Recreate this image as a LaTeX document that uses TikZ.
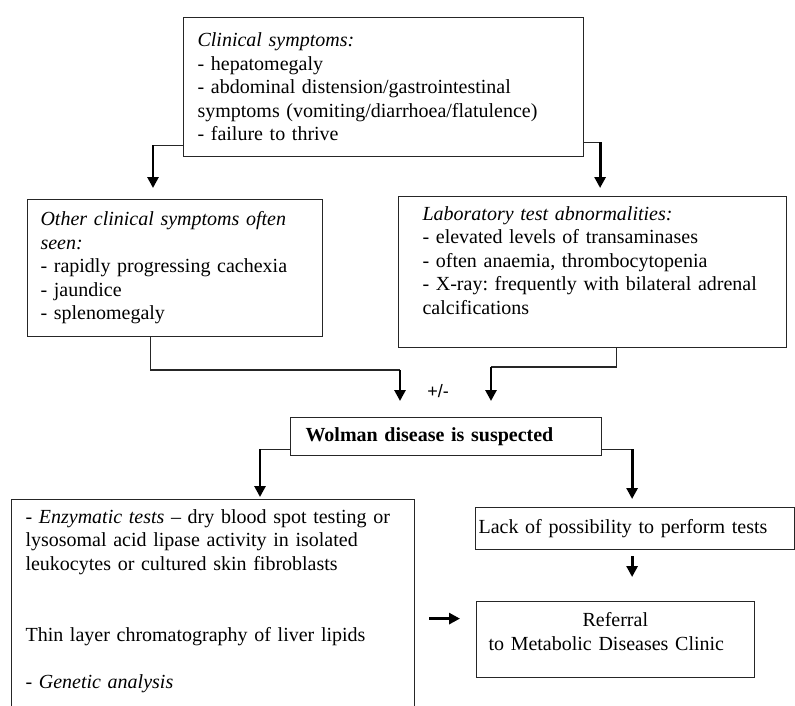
\documentclass[tikz,border=0pt]{standalone}
\usepackage{fontspec}
\setmainfont{Liberation Serif}
\setsansfont{Liberation Sans}
\usetikzlibrary{arrows.meta,calc}
\frenchspacing

\begin{document}
\begin{tikzpicture}[
  x=1pt, y=-1pt,
  font=\fontsize{20}{23.5}\selectfont,
  >={Triangle[length=11pt,width=11pt]},
  box/.style={
    draw=black!85, line width=1.1pt, anchor=north west,
    align=left, inner xsep=14pt, inner ysep=10pt
  },
  link/.style={draw=black!85, line width=1.1pt},
  arrow/.style={->, line width=2.8pt},
  pm/.style={font=\sffamily\fontsize{18}{20}\selectfont}
]
\useasboundingbox (0,0) rectangle (795,706);
\clip (0,0) rectangle (795,706);

% ---------- SYMPTOMS ----------
\node[box, text width=372pt, minimum height=139pt] (clin) at (183,17)
  {\textit{Clinical symptoms:}\\
   - hepatomegaly\\
   - abdominal distension/gastrointestinal\\
   symptoms (vomiting/diarrhoea/flatulence)\\
   - failure to thrive};

\node[box, text width=269pt, inner xsep=13pt, minimum height=137pt] (other) at (27,199)
  {\textit{Other clinical symptoms often}\\
   \textit{seen:}\\
   - rapidly progressing cachexia\\
   - jaundice\\
   - splenomegaly};

\node[box, text width=340pt, inner xsep=24pt, minimum height=146pt] (lab) at (398,196)
  {\textit{Laboratory test abnormalities:}\\
   - elevated levels of transaminases\\
   - often anaemia, thrombocytopenia\\
   - X-ray: frequently with bilateral adrenal\\
   calcifications\\
   \mbox{}};

% ---------- SUSPICION ----------
\node[box, text width=281pt, inner xsep=15pt, minimum height=37pt] (susp) at (290,417)
  {\textbf{Wolman disease is suspected}};
\node[pm] (pm) at (438,391) {+/-};

% ---------- DIAGNOSIS ----------
\node[box, text width=375pt] (enz) at (11,499)
  {- \textit{Enzymatic tests} -- dry blood spot testing or\\
   lysosomal acid lipase activity in isolated\\
   leukocytes or cultured skin fibroblasts\\[47.5pt]
   Thin layer chromatography of liver lipids\\[23.5pt]
   - \textit{Genetic analysis}\\
   \mbox{}};

\node[box, text width=313pt, inner xsep=3pt, minimum height=42pt] (lack) at (475,507)
  {Lack of possibility to perform tests};

\node[box, text width=254pt, inner xsep=12pt, inner ysep=11pt] (refer) at (476,601)
  {\hspace*{94pt}Referral\\
   to Metabolic Diseases Clinic\\[-7pt]
   \mbox{}};

% ---------- Connectors ----------
\draw[link] ([yshift=12pt]clin.south west) -- ++(-30,0) coordinate (cl);
\draw[arrow, shorten >=11pt] (cl) -- (cl |- other.north);
\draw[link] ([yshift=15pt]clin.south east) -- ++(16,0) coordinate (cr);
\draw[arrow, shorten >=8pt] (cr) -- (cr |- lab.north);

\coordinate (jl) at (400,370);
\coordinate (jr) at (491,367);
\draw[link] ([xshift=-24.5pt]other.south) |- (jl);
\draw[arrow, shorten >=16pt] (jl) -- (jl |- susp.north);
\draw[link] ([xshift=24pt]lab.south) |- (jr);
\draw[arrow, shorten >=16pt] (jr) -- (jr |- susp.north);

\draw[link] ([yshift=7pt]susp.south west) -- ++(-30,0) coordinate (sl);
\draw[arrow, shorten >=2pt] (sl) -- (sl |- enz.north);
\draw[link] ([yshift=7pt]susp.south east) -- ++(30,0) coordinate (sr);
\draw[arrow, shorten >=8pt] (sr) -- (sr |- lack.north);

\draw[arrow, shorten <=6pt, shorten >=24pt] (sr |- lack.south) -- (sr |- refer.north);
\draw[arrow, shorten <=14pt, shorten >=16pt] ($(enz.east |- refer.west)+(0,-21)$) -- ([yshift=21pt]refer.west);

\end{tikzpicture}
\end{document}
